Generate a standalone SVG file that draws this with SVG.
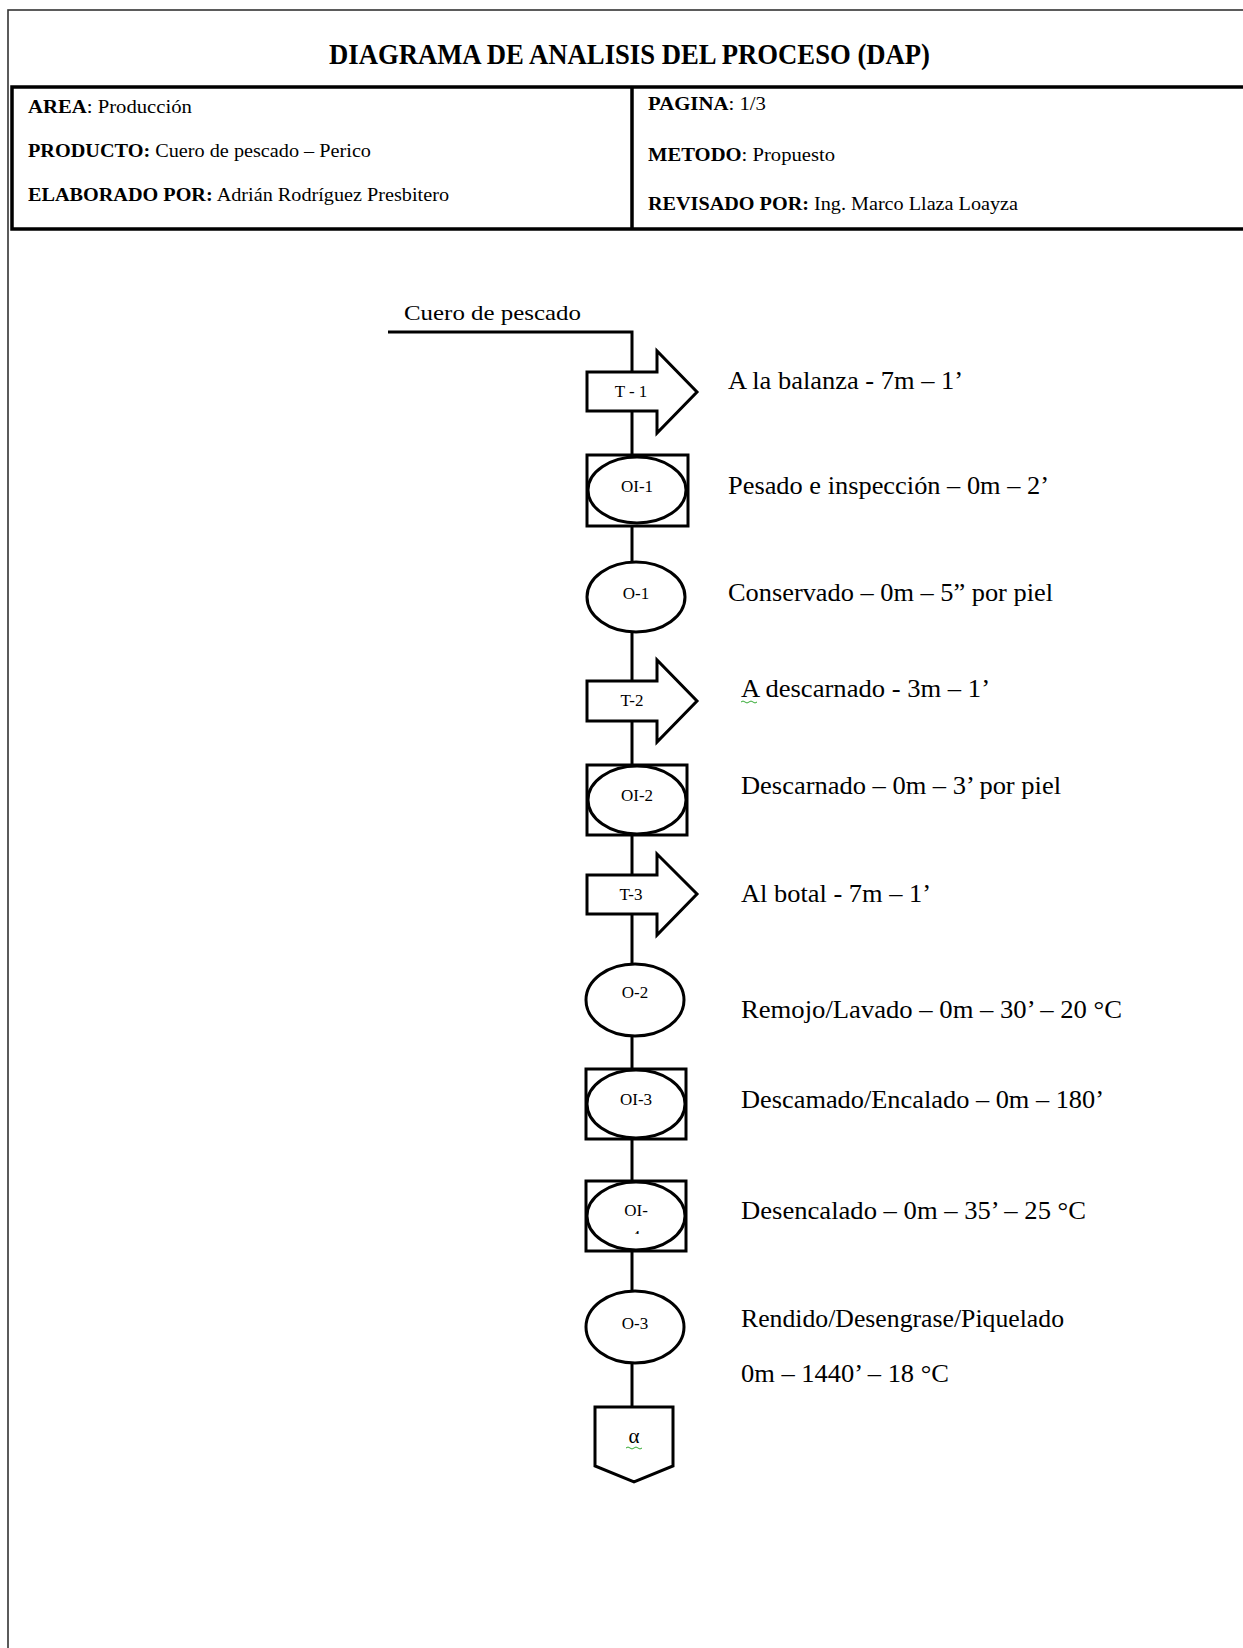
<svg xmlns="http://www.w3.org/2000/svg" width="1243" height="1648" viewBox="0 0 1243 1648">
<defs>
<style>
.frame{fill:none;stroke:#333;stroke-width:1.6}
.box{fill:none;stroke:#000;stroke-width:3.5}
.sh{fill:#fff;stroke:#000;stroke-width:3}
.ln{fill:none;stroke:#000;stroke-width:3}
.t{font-family:"Liberation Serif","Times New Roman",serif;fill:#000}
.title{font-size:29px;font-weight:bold}
.hd{font-size:18px}
.b{font-weight:bold}
.lab{font-size:17px;text-anchor:middle}
.desc{font-size:26px}
.sq{fill:none;stroke:#3a3;stroke-width:1}
</style>
<clipPath id="c4"><rect x="620" y="1229" width="30" height="5"/></clipPath>
</defs>
<rect class="frame" x="8" y="10" width="1300" height="1700"/>
<g id="header">
<text class="t title" x="329" y="64" textLength="601" lengthAdjust="spacingAndGlyphs">DIAGRAMA  DE ANALISIS  DEL PROCESO (DAP)</text>
<rect class="box" x="12" y="87" width="1300" height="142"/>
<line class="box" x1="632" y1="87" x2="632" y2="229"/>
<text class="t hd" x="28" y="113" textLength="164" lengthAdjust="spacingAndGlyphs"><tspan class="b">AREA</tspan>: Producción</text>
<text class="t hd" x="28" y="157" textLength="343" lengthAdjust="spacingAndGlyphs"><tspan class="b">PRODUCTO:</tspan> Cuero de pescado – Perico</text>
<text class="t hd" x="28" y="201" textLength="421" lengthAdjust="spacingAndGlyphs"><tspan class="b">ELABORADO POR:</tspan> Adrián Rodríguez Presbitero</text>
<text class="t hd" x="648" y="110" textLength="118" lengthAdjust="spacingAndGlyphs"><tspan class="b">PAGINA</tspan>: 1/3</text>
<text class="t hd" x="648" y="161" textLength="187" lengthAdjust="spacingAndGlyphs"><tspan class="b">METODO</tspan>: Propuesto</text>
<text class="t hd" x="648" y="210" textLength="370" lengthAdjust="spacingAndGlyphs"><tspan class="b">REVISADO POR:</tspan> Ing. Marco Llaza Loayza</text>
</g>
<g id="connectors">
<path class="ln" d="M388 332 H632 V372"/>
<line class="ln" x1="632" y1="411" x2="632" y2="455"/>
<line class="ln" x1="632" y1="526" x2="632" y2="562"/>
<line class="ln" x1="632" y1="632" x2="632" y2="681"/>
<line class="ln" x1="632" y1="721" x2="632" y2="765"/>
<line class="ln" x1="632" y1="835" x2="632" y2="875"/>
<line class="ln" x1="632" y1="914" x2="632" y2="964"/>
<line class="ln" x1="632" y1="1036" x2="632" y2="1069"/>
<line class="ln" x1="632" y1="1139" x2="632" y2="1181"/>
<line class="ln" x1="632" y1="1251" x2="632" y2="1291"/>
<line class="ln" x1="632" y1="1363" x2="632" y2="1407"/>
</g>
<g id="start">
<text class="t" x="404" y="320" font-size="21" textLength="177" lengthAdjust="spacingAndGlyphs">Cuero de pescado</text>
</g>
<g id="T1">
<polygon class="sh" points="587,372 657,372 657,351 697,392 657,433 657,411 587,411"/>
<text class="t lab" x="631" y="397">T - 1</text>
<text class="t desc" x="728" y="389" textLength="235" lengthAdjust="spacingAndGlyphs">A la balanza - 7m – 1’</text>
</g>
<g id="OI1">
<rect class="sh" x="587" y="455" width="101" height="71"/>
<ellipse class="sh" cx="637" cy="490" rx="49" ry="33"/>
<text class="t lab" x="637" y="492">OI-1</text>
<text class="t desc" x="728" y="494" textLength="321" lengthAdjust="spacingAndGlyphs">Pesado e inspección – 0m – 2’</text>
</g>
<g id="O1">
<ellipse class="sh" cx="636" cy="597" rx="49" ry="35"/>
<text class="t lab" x="636" y="599">O-1</text>
<text class="t desc" x="728" y="601" textLength="325" lengthAdjust="spacingAndGlyphs">Conservado  – 0m – 5” por piel</text>
</g>
<g id="T2">
<polygon class="sh" points="587,681 657,681 657,660 697,701 657,742 657,721 587,721"/>
<text class="t lab" x="632" y="706">T-2</text>
<text class="t desc" x="741" y="697" textLength="249" lengthAdjust="spacingAndGlyphs">A descarnado  - 3m – 1’</text>
<path class="sq" d="M741 702 q2 -2 4 0 t4 0 t4 0 t4 0"/>
</g>
<g id="OI2">
<rect class="sh" x="587" y="765" width="100" height="70"/>
<ellipse class="sh" cx="637" cy="800" rx="49" ry="34"/>
<text class="t lab" x="637" y="801">OI-2</text>
<text class="t desc" x="741" y="794" textLength="320" lengthAdjust="spacingAndGlyphs">Descarnado  – 0m – 3’ por piel</text>
</g>
<g id="T3">
<polygon class="sh" points="587,875 657,875 657,854 697,894 657,935 657,914 587,914"/>
<text class="t lab" x="631" y="900">T-3</text>
<text class="t desc" x="741" y="902" textLength="190" lengthAdjust="spacingAndGlyphs">Al botal - 7m – 1’</text>
</g>
<g id="O2">
<ellipse class="sh" cx="635" cy="1000" rx="49" ry="36"/>
<text class="t lab" x="635" y="998">O-2</text>
<text class="t desc" x="741" y="1018" textLength="381" lengthAdjust="spacingAndGlyphs">Remojo/Lavado  – 0m – 30’ – 20 °C</text>
</g>
<g id="OI3">
<rect class="sh" x="586" y="1069" width="100" height="70"/>
<ellipse class="sh" cx="636" cy="1104" rx="49" ry="34"/>
<text class="t lab" x="636" y="1105">OI-3</text>
<text class="t desc" x="741" y="1108" textLength="363" lengthAdjust="spacingAndGlyphs">Descamado/Encalado  – 0m – 180’</text>
</g>
<g id="OI4">
<rect class="sh" x="586" y="1181" width="100" height="70"/>
<ellipse class="sh" cx="636" cy="1216" rx="49" ry="34"/>
<text class="t lab" x="636" y="1216">OI-</text>
<text class="t lab" x="636" y="1242" clip-path="url(#c4)">4</text>
<text class="t desc" x="741" y="1219" textLength="345" lengthAdjust="spacingAndGlyphs">Desencalado  – 0m – 35’ – 25 °C</text>
</g>
<g id="O3">
<ellipse class="sh" cx="635" cy="1327" rx="49" ry="36"/>
<text class="t lab" x="635" y="1329">O-3</text>
<text class="t desc" x="741" y="1327" textLength="323" lengthAdjust="spacingAndGlyphs">Rendido/Desengrase/Piquelado</text>
<text class="t desc" x="741" y="1382" textLength="208" lengthAdjust="spacingAndGlyphs">0m – 1440’ – 18 °C</text>
</g>
<g id="connector-alpha">
<polygon class="sh" points="595,1407 673,1407 673,1466 634,1482 595,1466"/>
<text class="t lab" x="634" y="1443" style="font-size:21px">α</text>
<path class="sq" d="M626 1448 q2 -2 4 0 t4 0 t4 0 t4 0"/>
</g>
</svg>
